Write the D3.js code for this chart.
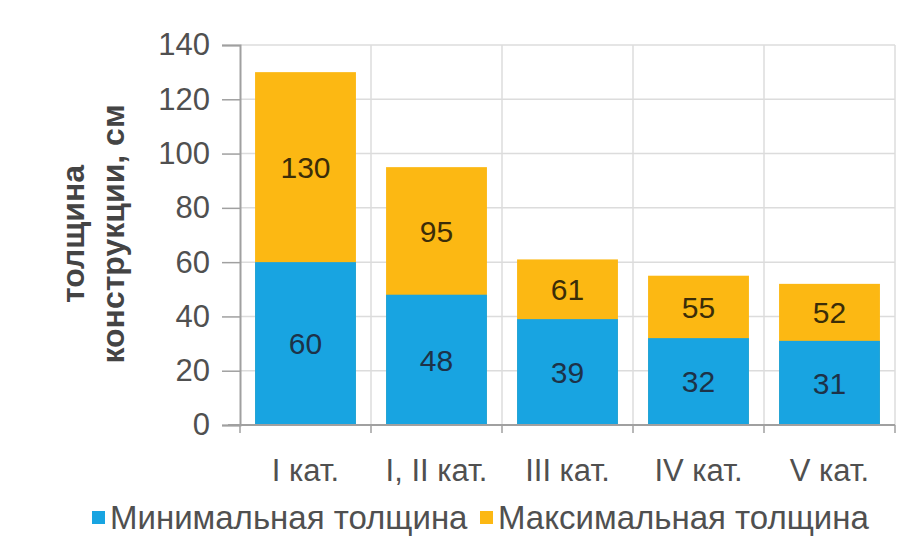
<!DOCTYPE html>
<html>
<head>
<meta charset="utf-8">
<script src="https://cdn.jsdelivr.net/npm/d3@7"></script>
<style>
  html, body { margin: 0; padding: 0; background: #ffffff; }
  svg { display: block; }
  text { font-family: "Liberation Sans", Arial, sans-serif; }
</style>
</head>
<body>
<svg id="chart" width="910" height="547"></svg>
<script>
// Road pavement thickness by road category, cm
const categories = ["I кат.", "I, II кат.", "III кат.", "IV кат.", "V кат."];
const minThickness = [60, 48, 39, 32, 31];
const maxThickness = [130, 95, 61, 55, 52];
const yTicks = [0, 20, 40, 60, 80, 100, 120, 140];
const seriesNames = ["Минимальная толщина", "Максимальная толщина"];
const axisTitle = ["толщина", "конструкции, см"];

const colors = { min: "#18a4e1", max: "#fcb813" };

const svg = d3.select("#chart");
const margin = { left: 240, right: 15, top: 45, bottom: 122 };
const W = 910, H = 547;

const x = d3.scaleBand()
  .domain(categories)
  .range([margin.left, W - margin.right])
  .paddingInner(0.23)
  .paddingOuter(0.115);

const y = d3.scaleLinear()
  .domain([0, 140])
  .range([H - margin.bottom, margin.top]);

const step = x.step();
const bandStart = c => x(c) - x.paddingInner() * step / 2;

// grid
const grid = svg.append("g").attr("stroke", "#dcdcdc").attr("stroke-width", 1.5);
grid.selectAll("line.h").data(yTicks.filter(t => t > 0)).join("line")
  .attr("x1", margin.left).attr("x2", W - margin.right)
  .attr("y1", d => y(d)).attr("y2", d => y(d));
const vEdges = categories.map(bandStart).slice(1).concat([W - margin.right]);
grid.selectAll("line.v").data(vEdges).join("line")
  .attr("x1", d => d).attr("x2", d => d)
  .attr("y1", y(140)).attr("y2", y(0));

const rows = categories.map((c, i) => ({ c, min: minThickness[i], max: maxThickness[i] }));

// maximum bars behind, minimum bars in front
svg.append("g").selectAll("rect").data(rows).join("rect")
  .attr("x", d => x(d.c)).attr("width", x.bandwidth())
  .attr("y", d => y(d.max)).attr("height", d => y(0) - y(d.max))
  .attr("fill", colors.max);
svg.append("g").selectAll("rect").data(rows).join("rect")
  .attr("x", d => x(d.c)).attr("width", x.bandwidth())
  .attr("y", d => y(d.min)).attr("height", d => y(0) - y(d.min))
  .attr("fill", colors.min);

// value labels
const lab = svg.append("g").attr("font-size", 30).attr("text-anchor", "middle");
lab.selectAll("text.mn").data(rows).join("text")
  .attr("x", d => x(d.c) + x.bandwidth() / 2)
  .attr("y", d => y(d.min / 2)).attr("dy", "0.36em")
  .attr("fill", "#1d3248").text(d => d.min);
lab.selectAll("text.mx").data(rows).join("text")
  .attr("x", d => x(d.c) + x.bandwidth() / 2)
  .attr("y", d => y((d.min + d.max) / 2)).attr("dy", "0.36em")
  .attr("fill", "#3b2d08").text(d => d.max);

// y axis
const yAxis = svg.append("g")
  .attr("transform", `translate(${margin.left},0)`)
  .call(d3.axisLeft(y).tickValues(yTicks).tickSize(18).tickPadding(12));
yAxis.select(".domain").attr("stroke", "#a0a0a0").attr("stroke-width", 2);
yAxis.selectAll(".tick line").attr("stroke", "#a0a0a0").attr("stroke-width", 1.5);
yAxis.selectAll(".tick text").attr("font-size", 31).attr("fill", "#505050")
  .attr("font-family", "Liberation Sans, Arial, sans-serif");

// x axis
const xAxis = svg.append("g").attr("transform", `translate(0,${y(0)})`);
xAxis.append("line").attr("x1", margin.left - 12).attr("x2", W - margin.right)
  .attr("stroke", "#a0a0a0").attr("stroke-width", 2);
xAxis.selectAll("line.t").data(categories.map(bandStart).concat([W - margin.right])).join("line")
  .attr("x1", d => d).attr("x2", d => d).attr("y1", 0).attr("y2", 8)
  .attr("stroke", "#a0a0a0").attr("stroke-width", 1.5);
xAxis.selectAll("text").data(categories).join("text")
  .attr("x", d => x(d) + x.bandwidth() / 2).attr("y", 56)
  .attr("text-anchor", "middle").attr("font-size", 31).attr("fill", "#505050")
  .text(d => d);

// axis title
const title = svg.append("g").attr("font-size", 32).attr("font-weight", "bold")
  .attr("fill", "#444").attr("text-anchor", "middle");
title.selectAll("text").data(axisTitle).join("text")
  .attr("transform", (d, i) => `translate(${84 + i * 40},234) rotate(-90)`)
  .text(d => d);

// legend
const legend = svg.append("g").attr("transform", "translate(92,517)");
const items = [{ n: seriesNames[0], c: colors.min, x: 0 }, { n: seriesNames[1], c: colors.max, x: 388 }];
const li = legend.selectAll("g").data(items).join("g").attr("transform", d => `translate(${d.x},0)`);
li.append("rect").attr("x", 0).attr("y", -6).attr("width", 13).attr("height", 13).attr("fill", d => d.c);
li.append("text").attr("x", 18).attr("y", 0).attr("dy", "0.36em")
  .attr("font-size", 33).attr("fill", "#505050").text(d => d.n);
</script>
</body>
</html>
